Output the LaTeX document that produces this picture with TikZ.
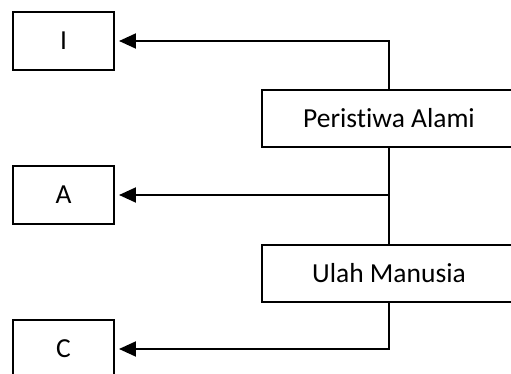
\documentclass[tikz,border=0pt]{standalone}
\usepackage{fontspec}
\setmainfont{Carlito}[Ligatures={NoCommon}]
\usepackage{tikz}
\usetikzlibrary{arrows.meta}
\usetikzlibrary{positioning}

\tikzset{
  smallbox/.style={draw,line width=1pt,minimum width=50.5pt,minimum height=29pt,inner sep=0pt},
  causebox/.style={draw,line width=1pt,minimum width=127pt,minimum height=28.5pt,inner sep=0pt},
  link/.style={line width=1pt},
  linkarrow/.style={link,-{Triangle[length=8.5pt,width=7.5pt]},shorten >=2pt}
}

\begin{document}
\begin{tikzpicture}[x=0.5pt,y=-0.5pt,font=\fontsize{13.75}{16}\selectfont]
\useasboundingbox (0,0) rectangle (511,374);
\begin{scope}
\node[smallbox] (I) at (63.5,41) {I};
\node[smallbox] (A) at (63.5,195) {A};
\node[smallbox] (C) at (63.5,349) {C};
\node[causebox] (alami) at (389,118.5) {Peristiwa Alami};
\node[causebox] (manusia) at (389,273.5) {Ulah Manusia};
\end{scope}
\coordinate (jA) at (alami.south |- A.east);
\draw[linkarrow] (alami.north) |- (I.east);
\draw[link] (alami.south) -- (manusia.north);
\draw[linkarrow] (jA) -- (A.east);
\draw[linkarrow] (manusia.south) |- (C.east);
\end{tikzpicture}
\end{document}
